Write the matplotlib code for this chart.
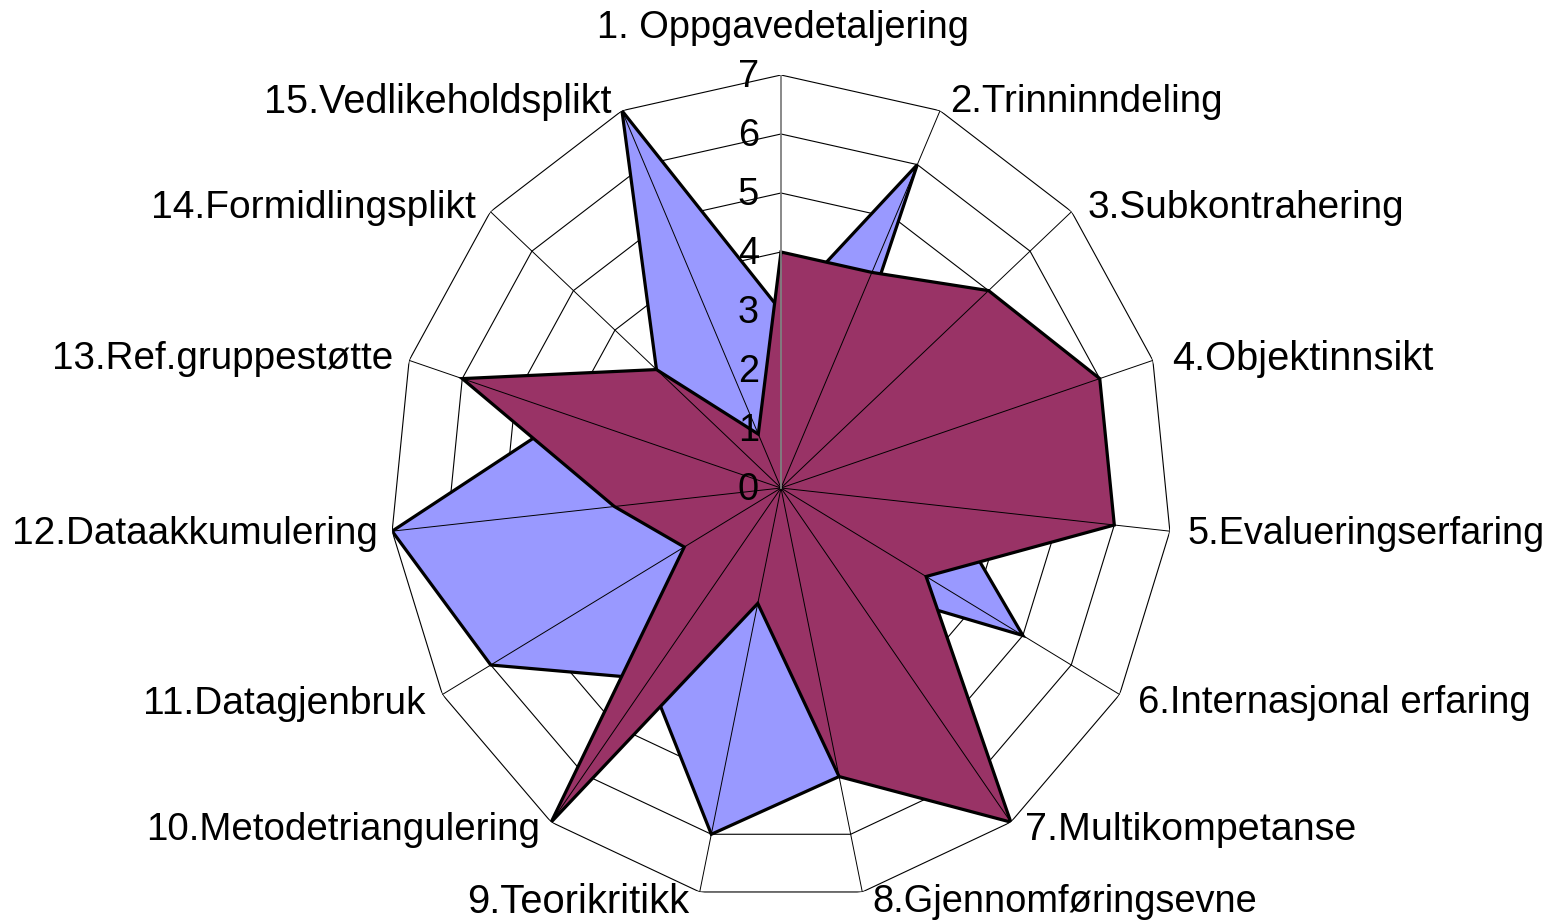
import numpy as np
import matplotlib
matplotlib.use("Agg")
import matplotlib.pyplot as plt

plt.rcParams['font.family'] = ['Liberation Sans', 'DejaVu Sans']

categories = ["1. Oppgavedetaljering", "2.Trinninndeling", "3.Subkontrahering",
              "4.Objektinnsikt", "5.Evalueringserfaring", "6.Internasjonal erfaring",
              "7.Multikompetanse", "8.Gjennomføringsevne", "9.Teorikritikk",
              "10.Metodetriangulering", "11.Datagjenbruk", "12.Dataakkumulering",
              "13.Ref.gruppestøtte", "14.Formidlingsplikt", "15.Vedlikeholdsplikt"]
series_blue = [3, 6, 1, 3, 3, 5, 2, 5, 6, 4, 6, 7, 4, 3, 7]
series_maroon = [4, 4, 5, 6, 6, 3, 7, 5, 2, 7, 2, 3, 6, 3, 1]
ticks = [0, 1, 2, 3, 4, 5, 6, 7]

# label placement (pixel offsets from outer vertex, alignment) and target text widths (px)
label_offsets = [(2, 47, 'center'), (10, 9, 'left'), (16, 4, 'left'), (19, 1, 'left'),
                 (18, -3, 'left'), (18, -9, 'left'), (14, -8, 'left'), (10, -10, 'left'),
                 (-10, -10, 'right'), (-11, -8, 'right'), (-17, -9, 'right'),
                 (-14, -3, 'right'), (-16, 1, 'right'), (-15, 4, 'right'), (-10, 9, 'right')]
label_widths = [371, 272, 316, 261, 357, 392, 331, 384, 222, 393, 282, 366, 341, 325, 347]

W, H = 1557, 923
fig = plt.figure(figsize=(W / 100, H / 100), dpi=100)
fig.patch.set_facecolor('white')
cx, cy, rx, ry = 781, 488, 391, 413
ax = fig.add_axes([(cx - rx) / W, (H - cy - ry) / H, 2 * rx / W, 2 * ry / H], projection='polar')
ax.set_aspect('auto')
ax.set_theta_zero_location('N')
ax.set_theta_direction(-1)
ax.set_ylim(0, max(ticks))
ax.grid(False)
ax.spines['polar'].set_visible(False)
ax.set_xticks([])
ax.set_yticks([])
ax.patch.set_alpha(0)

n = len(categories)
theta = np.deg2rad(np.arange(n) * 360.0 / n)
theta_c = np.append(theta, theta[0])

# rings
for r in ticks[1:]:
    ax.plot(theta_c, [r] * (n + 1), color='black', lw=0.8, zorder=1)

b = np.append(series_blue, series_blue[0])
m = np.append(series_maroon, series_maroon[0])
ax.fill(theta_c, b, facecolor='#9999FF', edgecolor='black', lw=2.3, zorder=2, joinstyle='miter')
ax.fill(theta_c, m, facecolor='#993366', edgecolor='black', lw=2.3, zorder=3, joinstyle='miter')

# spokes
for t in theta[1:]:
    ax.plot([t, t], [0, max(ticks)], color='black', lw=0.7, zorder=4)
ax.plot([0, 0], [0, max(ticks)], color='#808080', lw=1.3, zorder=4)

# value labels
for r in ticks:
    ax.annotate(str(r), xy=(0, r), xytext=(-22, -2), textcoords='offset pixels',
                ha='right', va='center', fontsize=27.4, zorder=6, annotation_clip=False)

# category labels
texts = []
for t, lab, (dx, dy, ha) in zip(theta, categories, label_offsets):
    texts.append(ax.annotate(lab, xy=(t, max(ticks)), xytext=(dx, dy), textcoords='offset pixels',
                             ha=ha, va='center', fontsize=27.4, annotation_clip=False))

fig.canvas.draw()
renderer = fig.canvas.get_renderer()
for txt, wt in zip(texts, label_widths):
    w = txt.get_window_extent(renderer).width
    txt.set_fontsize(27.4 * wt / w)

fig.savefig('out.png', dpi=100, facecolor='white')
